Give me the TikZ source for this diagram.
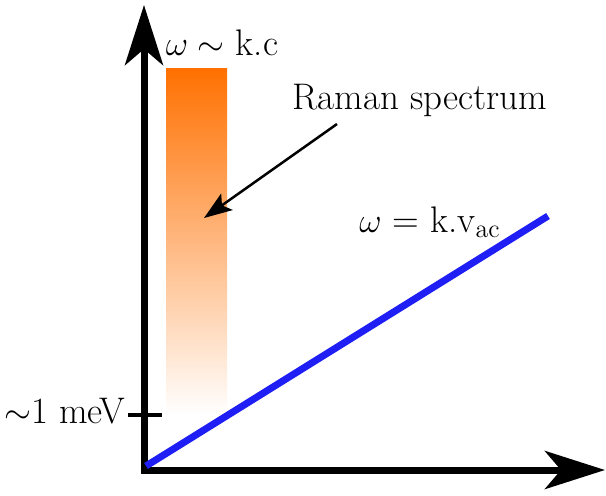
\documentclass[tikz,border=0pt]{standalone}
\usepackage{amsmath,amssymb}
\usetikzlibrary{arrows.meta,positioning}
\definecolor{ramanorange}{RGB}{255,112,0}
\definecolor{phononblue}{RGB}{30,30,245}

\begin{document}
\begin{tikzpicture}[x=.5pt,y=-.5pt,>=Latex,font=\fontsize{18.5}{22}\selectfont,
  axis/.style={line width=3.5pt,-{Stealth[length=30pt,width=19pt,inset=8pt]}},
  lbl/.style={inner sep=1pt}]
 \useasboundingbox (0,0) rectangle (606,495);
 \coordinate (O) at (144,470);
 \coordinate (ytop) at (144,5);
 \coordinate (xend) at (605,470);
 % Raman band
 \shade[top color=ramanorange,bottom color=white] (166,68) rectangle (227,415);
 % axes
 \draw[axis] ([yshift=-1.75pt]O) -- (ytop);
 \draw[axis] ([xshift=-1.75pt]O) -- (xend);
 \coordinate (tickL) at (128,415);
 \coordinate (tickR) at (162,415);
 \draw[line width=1.8pt] (tickL) -- (tickR);
 \node[lbl,anchor=east] (mev) at ([yshift=2pt]tickL) {$\sim$1 meV};
 % acoustic branch
 \coordinate (acstart) at (146,466);
 \coordinate (acend) at (548,216);
 \draw[line width=3.5pt,phononblue] (acstart) -- (acend);
 \node[lbl] (vac) at (430,222) {$\omega$ = k.v\textsubscript{ac}};
 \node[lbl] (wc) at (222,43) {$\omega\sim$ k.c};
 \node[lbl] (raman) at (420,100) {Raman spectrum};
 \coordinate (bandpt) at (204,218);
 \draw[line width=1.25pt,-{Stealth[length=14pt,width=10pt,inset=3pt]}] (337,124) -- (bandpt);
\end{tikzpicture}
\end{document}
